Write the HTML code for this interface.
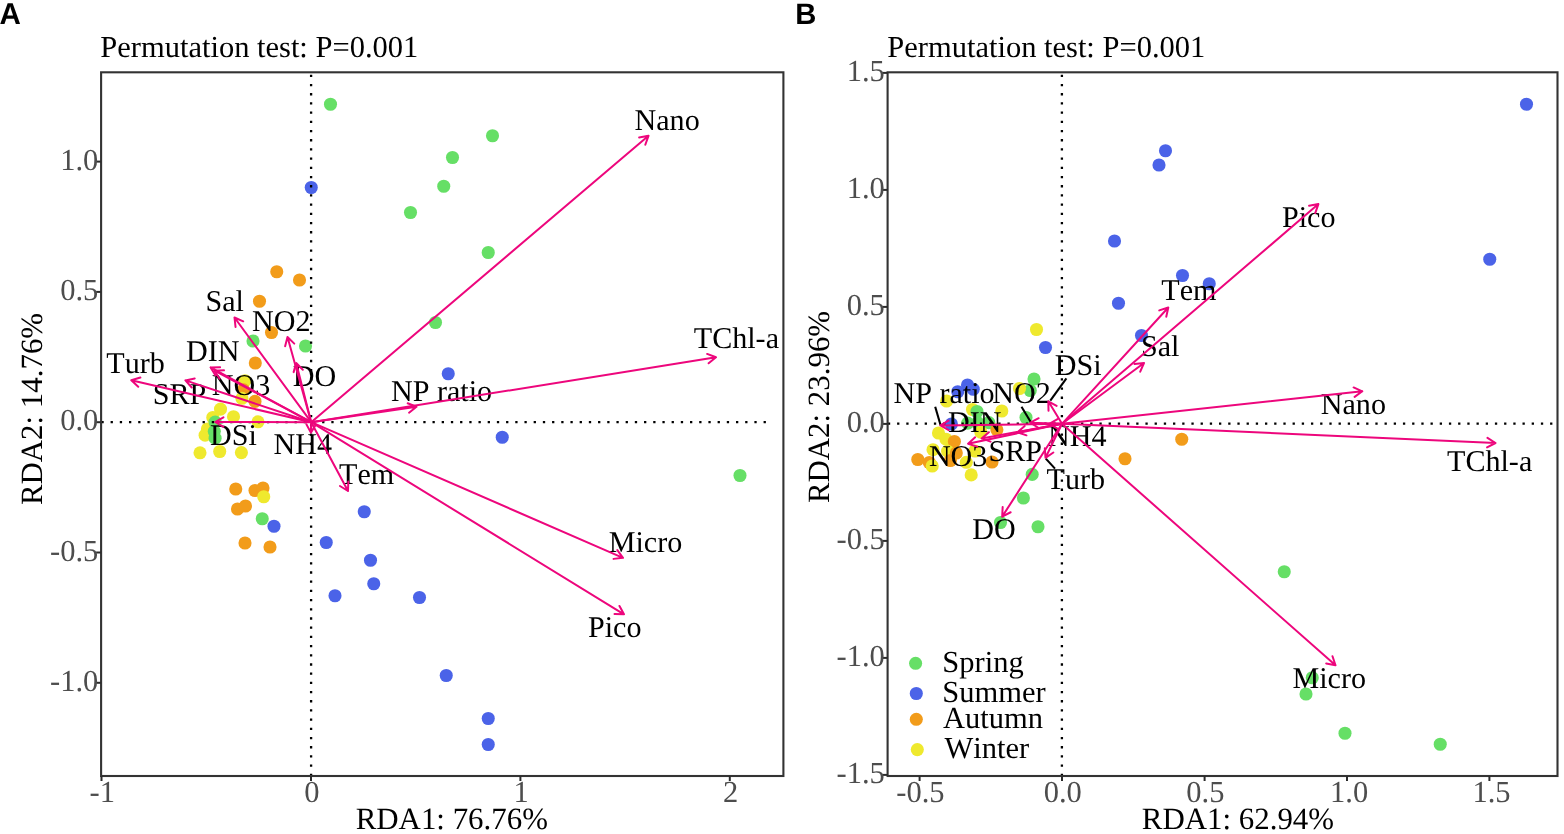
<!DOCTYPE html>
<html lang="en"><head><meta charset="utf-8"><title>RDA ordination</title>
<style>html,body{margin:0;padding:0;background:#fff}svg{display:block;text-rendering:geometricPrecision;font-kerning:none}.s{font-family:"Liberation Serif","Times New Roman",serif}.l{font-size:30.5px;fill:#000}.t{font-size:30.5px;fill:#4d4d4d}.p{font-size:30.1px;fill:#000}.h{font-family:"Liberation Sans",Arial,sans-serif;font-weight:bold;font-size:31.1px;fill:#000}</style></head><body>
<svg width="1564" height="834" viewBox="0 0 1564 834">
<rect width="1564" height="834" fill="#fff"/>
<g id="panel-A">
<g>
<circle cx="330.5" cy="104.25" r="6.55" fill="#66df66"/>
<circle cx="311.25" cy="187.5" r="6.55" fill="#4b63e8"/>
<circle cx="492.5" cy="135.75" r="6.55" fill="#66df66"/>
<circle cx="452.5" cy="157.5" r="6.55" fill="#66df66"/>
<circle cx="443.75" cy="186.25" r="6.55" fill="#66df66"/>
<circle cx="410.5" cy="212.5" r="6.55" fill="#66df66"/>
<circle cx="488.25" cy="252.5" r="6.55" fill="#66df66"/>
<circle cx="435.5" cy="322.5" r="6.55" fill="#66df66"/>
<circle cx="448.25" cy="373.75" r="6.55" fill="#4b63e8"/>
<circle cx="276.75" cy="271.75" r="6.55" fill="#f29c1a"/>
<circle cx="299.5" cy="280" r="6.55" fill="#f29c1a"/>
<circle cx="259.5" cy="301.25" r="6.55" fill="#f29c1a"/>
<circle cx="271.5" cy="332.5" r="6.55" fill="#f29c1a"/>
<circle cx="253" cy="341" r="6.55" fill="#66df66"/>
<circle cx="305.5" cy="346" r="6.55" fill="#66df66"/>
<circle cx="255.3" cy="363" r="6.55" fill="#f29c1a"/>
<circle cx="245" cy="380.7" r="6.55" fill="#efe92e"/>
<circle cx="243.5" cy="389.9" r="6.55" fill="#f29c1a"/>
<circle cx="241.9" cy="398.3" r="6.55" fill="#efe92e"/>
<circle cx="255" cy="401.4" r="6.55" fill="#f29c1a"/>
<circle cx="220.5" cy="409.1" r="6.55" fill="#efe92e"/>
<circle cx="212.8" cy="417.5" r="6.55" fill="#efe92e"/>
<circle cx="233.5" cy="416.7" r="6.55" fill="#efe92e"/>
<circle cx="258" cy="421.8" r="6.55" fill="#efe92e"/>
<circle cx="207.4" cy="429" r="6.55" fill="#efe92e"/>
<circle cx="205.1" cy="435.2" r="6.55" fill="#efe92e"/>
<circle cx="215.1" cy="422.1" r="6.55" fill="#66df66"/>
<circle cx="214.3" cy="431.3" r="6.55" fill="#66df66"/>
<circle cx="215.1" cy="438.2" r="6.55" fill="#66df66"/>
<circle cx="200" cy="452.8" r="6.55" fill="#efe92e"/>
<circle cx="219.7" cy="451.5" r="6.55" fill="#efe92e"/>
<circle cx="241.4" cy="452.6" r="6.55" fill="#efe92e"/>
<circle cx="235.75" cy="489" r="6.55" fill="#f29c1a"/>
<circle cx="255" cy="490.5" r="6.55" fill="#f29c1a"/>
<circle cx="263" cy="488" r="6.55" fill="#f29c1a"/>
<circle cx="263.75" cy="496.75" r="6.55" fill="#efe92e"/>
<circle cx="237.5" cy="509" r="6.55" fill="#f29c1a"/>
<circle cx="245.5" cy="506" r="6.55" fill="#f29c1a"/>
<circle cx="262.25" cy="518.75" r="6.55" fill="#66df66"/>
<circle cx="274" cy="526.25" r="6.55" fill="#4b63e8"/>
<circle cx="245" cy="543" r="6.55" fill="#f29c1a"/>
<circle cx="270" cy="547" r="6.55" fill="#f29c1a"/>
<circle cx="364.25" cy="511.75" r="6.55" fill="#4b63e8"/>
<circle cx="326.25" cy="542.5" r="6.55" fill="#4b63e8"/>
<circle cx="370.5" cy="560.25" r="6.55" fill="#4b63e8"/>
<circle cx="373.75" cy="583.75" r="6.55" fill="#4b63e8"/>
<circle cx="335" cy="595.75" r="6.55" fill="#4b63e8"/>
<circle cx="502.25" cy="437.25" r="6.55" fill="#4b63e8"/>
<circle cx="740" cy="475.5" r="6.55" fill="#66df66"/>
<circle cx="419.5" cy="597.5" r="6.55" fill="#4b63e8"/>
<circle cx="446.25" cy="675.5" r="6.55" fill="#4b63e8"/>
<circle cx="488.25" cy="718.5" r="6.55" fill="#4b63e8"/>
<circle cx="488.25" cy="744.5" r="6.55" fill="#4b63e8"/>
</g>
<g stroke="#000" stroke-width="2.3" stroke-dasharray="2.3 6.897" fill="none">
<path d="M311.1 776V72.3"/>
<path d="M101.4 422.1H766"/>
</g>
<g class="s p">
<text x="205.5" y="310.5">Sal</text>
<text x="252" y="330.5">NO2</text>
<text x="186" y="360.5">DIN</text>
<text x="106.3" y="373">Turb</text>
<text x="292.75" y="386">DO</text>
<text x="211.8" y="394.8">NO3</text>
<text x="152.75" y="403.5">SRP</text>
<text x="210" y="444.75">DSi</text>
<text x="273.5" y="454">NH4</text>
<text x="339" y="483.5">Tem</text>
<text x="634.5" y="130">Nano</text>
<text x="693.75" y="348">TChl-a</text>
<text x="391" y="400.5">NP ratio</text>
<text x="608.75" y="551.5">Micro</text>
<text x="588" y="637">Pico</text>
</g>
<g stroke="#ed067c" stroke-width="2" fill="none" stroke-linecap="round" stroke-linejoin="round">
<path d="M311.2 422.2L648.5 135.8M645.3 144.75L648.5 135.8L639.15 137.5"/>
<path d="M311.2 422.2L716 357.3M708.63 363.29L716 357.3L707.12 353.91"/>
<path d="M311.2 422.2L623 557.8M613.56 558.87L623 557.8L617.35 550.16"/>
<path d="M311.2 422.2L624 614.3M614.5 614.04L624 614.3L619.48 605.95"/>
<path d="M311.2 422.2L416.5 406.8M409.05 412.69L416.5 406.8L407.67 403.29"/>
<path d="M311.2 422.2L348 491M339.93 485.99L348 491L348.31 481.5"/>
<path d="M311.2 422.2L310.9 432.6M306.39 424.24L310.9 432.6L315.89 424.51"/>
<path d="M311.2 422.2L215.2 422M223.44 417.27L215.2 422L223.42 426.77"/>
<path d="M311.2 422.2L185.4 380.4M194.71 378.49L185.4 380.4L191.71 387.5"/>
<path d="M311.2 422.2L131.3 380.3M140.39 377.54L131.3 380.3L138.24 386.79"/>
<path d="M311.2 422.2L214.5 370.7M223.99 370.37L214.5 370.7L219.53 378.76"/>
<path d="M311.2 422.2L210.6 367.4M220.1 367.16L210.6 367.4L215.55 375.51"/>
<path d="M311.2 422.2L296.2 363M302.83 369.81L296.2 363L293.62 372.14"/>
<path d="M311.2 422.2L287.5 337M294.28 343.65L287.5 337L285.13 346.2"/>
<path d="M311.2 422.2L234.5 317.5M243.19 321.33L234.5 317.5L235.53 326.94"/>
</g>
<rect x="101.1" y="72.3" width="682.3" height="703.7" fill="none" stroke="#333333" stroke-width="2.1"/>
<g stroke="#2b2b2b" stroke-width="2">
<path d="M101.5 776v5"/>
<path d="M311 776v5"/>
<path d="M520.4 776v5"/>
<path d="M729.8 776v5"/>
<path d="M101.1 161.6h-5"/>
<path d="M101.1 291.9h-5"/>
<path d="M101.1 422.2h-5"/>
<path d="M101.1 552.5h-5"/>
<path d="M101.1 682.8h-5"/>
</g>
<g class="s t">
<text transform="translate(102.3 801.7) scale(1 1)" text-anchor="middle">-1</text>
<text transform="translate(311.8 801.7) scale(1 1)" text-anchor="middle">0</text>
<text transform="translate(521.2 801.7) scale(1 1)" text-anchor="middle">1</text>
<text transform="translate(730.6 801.7) scale(1 1)" text-anchor="middle">2</text>
<text transform="translate(98.3 169.6) scale(1 1)" text-anchor="end">1.0</text>
<text transform="translate(98.3 299.9) scale(1 1)" text-anchor="end">0.5</text>
<text transform="translate(98.3 430.2) scale(1 1)" text-anchor="end">0.0</text>
<text transform="translate(98.3 560.5) scale(1 1)" text-anchor="end">-0.5</text>
<text transform="translate(98.3 690.8) scale(1 1)" text-anchor="end">-1.0</text>
</g>
<text class="s l" x="100.3" y="57">Permutation test: P=0.001</text>
</g>
<g id="panel-B">
<g>
<circle cx="1526.5" cy="104.25" r="6.55" fill="#4b63e8"/>
<circle cx="1165.5" cy="150.75" r="6.55" fill="#4b63e8"/>
<circle cx="1159" cy="165" r="6.55" fill="#4b63e8"/>
<circle cx="1114.5" cy="241" r="6.55" fill="#4b63e8"/>
<circle cx="1118.5" cy="303.25" r="6.55" fill="#4b63e8"/>
<circle cx="1182.5" cy="275.5" r="6.55" fill="#4b63e8"/>
<circle cx="1209.25" cy="283.75" r="6.55" fill="#4b63e8"/>
<circle cx="1489.75" cy="259.25" r="6.55" fill="#4b63e8"/>
<circle cx="1141.5" cy="335.5" r="6.55" fill="#4b63e8"/>
<circle cx="1036.5" cy="329.5" r="6.55" fill="#efe92e"/>
<circle cx="1045.5" cy="347.5" r="6.55" fill="#4b63e8"/>
<circle cx="1034" cy="379" r="6.55" fill="#66df66"/>
<circle cx="1030.25" cy="390.5" r="6.55" fill="#66df66"/>
<circle cx="1019.5" cy="388.5" r="6.55" fill="#efe92e"/>
<circle cx="967.5" cy="385" r="6.55" fill="#4b63e8"/>
<circle cx="957.75" cy="391.75" r="6.55" fill="#4b63e8"/>
<circle cx="973.25" cy="389.25" r="6.55" fill="#4b63e8"/>
<circle cx="946.6" cy="401" r="6.55" fill="#efe92e"/>
<circle cx="972.5" cy="409.5" r="6.55" fill="#efe92e"/>
<circle cx="977" cy="411.5" r="6.55" fill="#66df66"/>
<circle cx="1001.8" cy="411" r="6.55" fill="#efe92e"/>
<circle cx="1026" cy="417.5" r="6.55" fill="#66df66"/>
<circle cx="951.4" cy="424" r="6.55" fill="#4b63e8"/>
<circle cx="967.7" cy="423.1" r="6.55" fill="#66df66"/>
<circle cx="977.7" cy="422.6" r="6.55" fill="#66df66"/>
<circle cx="988.8" cy="422.6" r="6.55" fill="#66df66"/>
<circle cx="996.9" cy="429.8" r="6.55" fill="#f29c1a"/>
<circle cx="980.8" cy="432.1" r="6.55" fill="#efe92e"/>
<circle cx="938.5" cy="433" r="6.55" fill="#efe92e"/>
<circle cx="946" cy="439.2" r="6.55" fill="#efe92e"/>
<circle cx="954.4" cy="441.5" r="6.55" fill="#f29c1a"/>
<circle cx="933" cy="449.7" r="6.55" fill="#efe92e"/>
<circle cx="947.6" cy="451.2" r="6.55" fill="#efe92e"/>
<circle cx="956.3" cy="453" r="6.55" fill="#f29c1a"/>
<circle cx="974.9" cy="451" r="6.55" fill="#efe92e"/>
<circle cx="917.8" cy="459.5" r="6.55" fill="#f29c1a"/>
<circle cx="929.3" cy="462.5" r="6.55" fill="#f29c1a"/>
<circle cx="932.2" cy="466" r="6.55" fill="#efe92e"/>
<circle cx="950.4" cy="460.5" r="6.55" fill="#f29c1a"/>
<circle cx="966.3" cy="462.3" r="6.55" fill="#efe92e"/>
<circle cx="992" cy="462" r="6.55" fill="#f29c1a"/>
<circle cx="971.2" cy="474.9" r="6.55" fill="#efe92e"/>
<circle cx="1032.2" cy="474.4" r="6.55" fill="#66df66"/>
<circle cx="1023.4" cy="498" r="6.55" fill="#66df66"/>
<circle cx="1000.5" cy="522.5" r="6.55" fill="#66df66"/>
<circle cx="1038" cy="526.75" r="6.55" fill="#66df66"/>
<circle cx="1125" cy="458.75" r="6.55" fill="#f29c1a"/>
<circle cx="1181.75" cy="439.25" r="6.55" fill="#f29c1a"/>
<circle cx="1284.25" cy="571.75" r="6.55" fill="#66df66"/>
<circle cx="1312.25" cy="677.75" r="6.55" fill="#66df66"/>
<circle cx="1306" cy="694" r="6.55" fill="#66df66"/>
<circle cx="1345" cy="733.25" r="6.55" fill="#66df66"/>
<circle cx="1440.25" cy="744.25" r="6.55" fill="#66df66"/>
</g>
<g stroke="#000" stroke-width="2.3" stroke-dasharray="2.3 6.897" fill="none">
<path d="M1061.9 776V72.3"/>
<path d="M887.9 423.7H1556"/>
</g>
<g stroke="#000" stroke-width="2.1" fill="none">
<path d="M1066.4 378.4L1050.3 400.7"/>
<path d="M935.2 406.8L940.6 425.2"/>
<path d="M1021.5 406.8L1031 422.5"/>
<path d="M1045.8 458.6L1055 468.6"/>
</g>
<g class="s p">
<text x="893.5" y="403">NP ratio</text>
<text x="992.25" y="403">NO2</text>
<text x="1054.75" y="375">DSi</text>
<text x="1161.3" y="300.3">Tem</text>
<text x="1141" y="356">Sal</text>
<text x="948" y="432.1">DIN</text>
<text x="928.9" y="466.2">NO3</text>
<text x="988.5" y="460.7">SRP</text>
<text x="1048" y="446">NH4</text>
<text x="1046.5" y="488.7">Turb</text>
<text x="972.25" y="539">DO</text>
<text x="1282" y="226.75">Pico</text>
<text x="1320.75" y="413.5">Nano</text>
<text x="1447" y="471">TChl-a</text>
<text x="1292.5" y="687.75">Micro</text>
</g>
<g stroke="#ed067c" stroke-width="2" fill="none" stroke-linecap="round" stroke-linejoin="round">
<path d="M1062 423.8L1318.4 204.1M1315.24 213.06L1318.4 204.1L1309.06 205.85"/>
<path d="M1062 423.8L1168.3 307.5M1166.26 316.78L1168.3 307.5L1159.24 310.37"/>
<path d="M1062 423.8L1144 363M1140.22 371.72L1144 363L1134.56 364.08"/>
<path d="M1062 423.8L1048.3 401.3M1056.64 405.86L1048.3 401.3L1048.52 410.8"/>
<path d="M1062 423.8L1362.3 391.3M1354.63 396.91L1362.3 391.3L1353.61 387.46"/>
<path d="M1062 423.8L1495.5 443M1487.07 447.38L1495.5 443L1487.49 437.89"/>
<path d="M1062 423.8L1335.5 665.3M1326.19 663.42L1335.5 665.3L1332.48 656.29"/>
<path d="M1062 423.8L940.4 425.4M948.56 420.54L940.4 425.4L948.69 430.04"/>
<path d="M1062 423.8L1030.3 422.7M1038.69 418.24L1030.3 422.7L1038.36 427.73"/>
<path d="M1062 423.8L1017.5 432.2M1024.7 426.01L1017.5 432.2L1026.47 435.34"/>
<path d="M1062 423.8L981.6 438.4M988.85 432.26L981.6 438.4L990.54 441.6"/>
<path d="M1062 423.8L968.1 443.7M975.16 437.35L968.1 443.7L977.13 446.64"/>
<path d="M1062 423.8L1045.5 457.8M1044.82 448.32L1045.5 457.8L1053.37 452.47"/>
<path d="M1062 423.8L1002.2 516.6M1002.66 507.11L1002.2 516.6L1010.65 512.26"/>
<path d="M1062 423.8L1049.3 423.8M1057.53 419.05L1049.3 423.8L1057.53 428.55"/>
</g>
<rect x="887.6" y="72.3" width="669.9" height="703.7" fill="none" stroke="#333333" stroke-width="2.1"/>
<g stroke="#2b2b2b" stroke-width="2">
<path d="M919.6 776v5"/>
<path d="M1062 776v5"/>
<path d="M1204.6 776v5"/>
<path d="M1347 776v5"/>
<path d="M1489.4 776v5"/>
<path d="M887.6 72.9h-5"/>
<path d="M887.6 189.9h-5"/>
<path d="M887.6 306.9h-5"/>
<path d="M887.6 423.9h-5"/>
<path d="M887.6 540.9h-5"/>
<path d="M887.6 657.9h-5"/>
<path d="M887.6 774.9h-5"/>
</g>
<g class="s t">
<text transform="translate(920.4 801.7) scale(1 1)" text-anchor="middle">-0.5</text>
<text transform="translate(1062.8 801.7) scale(1 1)" text-anchor="middle">0.0</text>
<text transform="translate(1205.4 801.7) scale(1 1)" text-anchor="middle">0.5</text>
<text transform="translate(1349.1 801.7) scale(1 1)" text-anchor="middle">1.0</text>
<text transform="translate(1491.5 801.7) scale(1 1)" text-anchor="middle">1.5</text>
<text transform="translate(884.8 80.9) scale(1 1)" text-anchor="end">1.5</text>
<text transform="translate(884.8 197.9) scale(1 1)" text-anchor="end">1.0</text>
<text transform="translate(884.8 314.9) scale(1 1)" text-anchor="end">0.5</text>
<text transform="translate(884.8 431.9) scale(1 1)" text-anchor="end">0.0</text>
<text transform="translate(884.8 548.9) scale(1 1)" text-anchor="end">-0.5</text>
<text transform="translate(884.8 665.9) scale(1 1)" text-anchor="end">-1.0</text>
<text transform="translate(884.8 782.9) scale(1 1)" text-anchor="end">-1.5</text>
</g>
<text class="s l" x="887.3" y="57">Permutation test: P=0.001</text>
</g>
<g class="s l" style="font-size:30.9px">
<text x="355.7" y="828.7">RDA1: 76.76%</text>
<text x="1141.8" y="828.7">RDA1: 62.94%</text>
<text transform="translate(41.8 409) rotate(-90)" text-anchor="middle">RDA2: 14.76%</text>
<text transform="translate(828.7 407) rotate(-90)" text-anchor="middle">RDA2: 23.96%</text>
</g>
<text class="h" style="font-size:30px" transform="translate(-0.4 24.3) scale(.985 1)">A</text>
<text class="h" style="font-size:29.5px" transform="translate(795.3 24.1) scale(.99 1)">B</text>
<g id="legend">
<circle cx="915.6" cy="663.3" r="6.55" fill="#66df66"/>
<text class="s l" x="942.3" y="672">Spring</text>
<circle cx="916.3" cy="693.5" r="6.55" fill="#4b63e8"/>
<text class="s l" x="942.3" y="702.4">Summer</text>
<circle cx="916.3" cy="719.3" r="6.55" fill="#f29c1a"/>
<text class="s l" x="943" y="727.8">Autumn</text>
<circle cx="917.3" cy="749.6" r="6.55" fill="#efe92e"/>
<text class="s l" x="944.4" y="757.8">Winter</text>
</g>
</svg></body></html>
